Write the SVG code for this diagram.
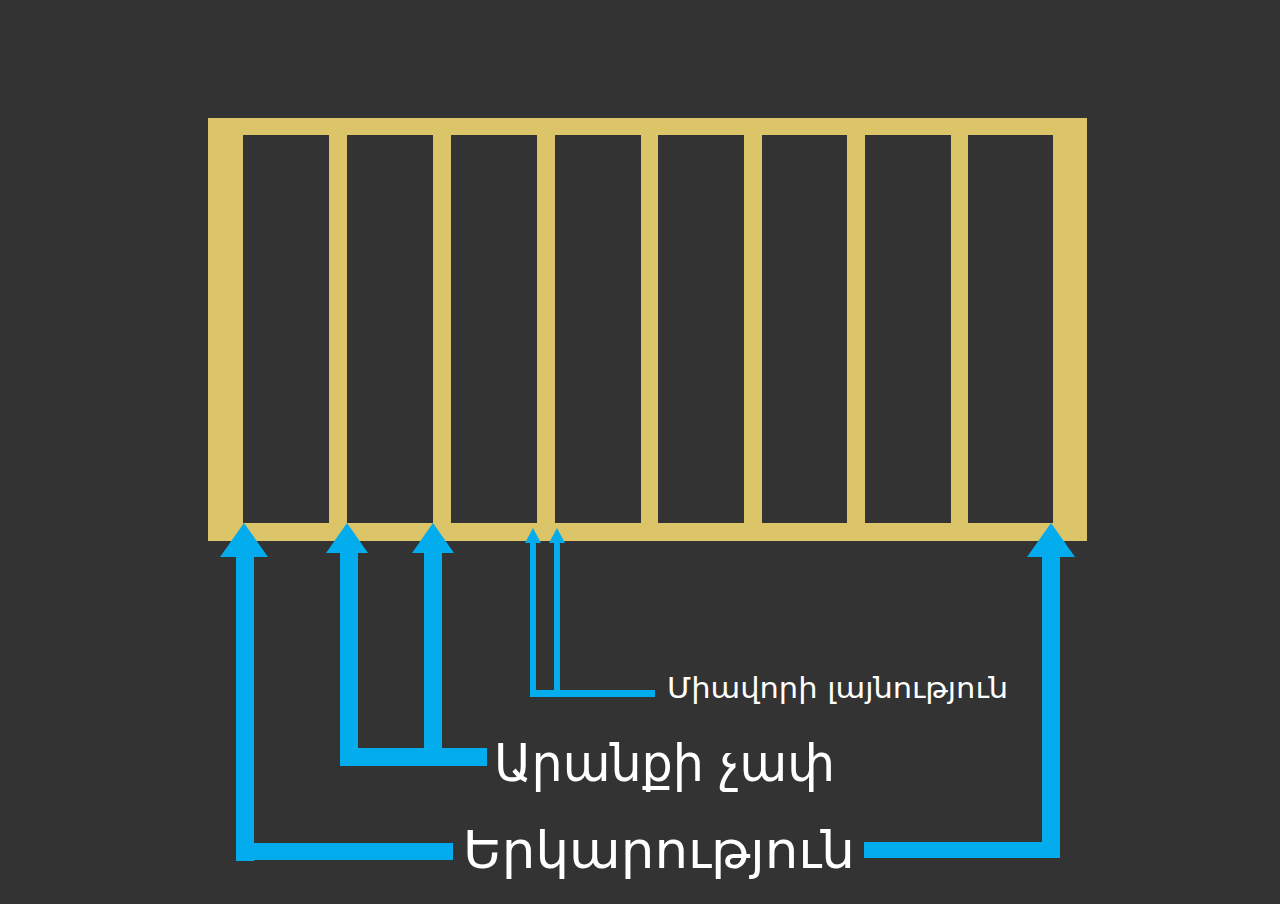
<svg xmlns="http://www.w3.org/2000/svg" width="1280" height="904" viewBox="0 0 1280 904">
<style>
.bg{fill:#333333}
.wood{fill:#dcc468}
.blue{fill:#02aced}
.lbl{fill:#ffffff;font-family:"DejaVu Sans","Noto Sans",sans-serif}
</style>
<rect class="bg" x="0" y="0" width="1280" height="904"/>
<g id="frame">
<rect class="wood" x="208" y="118" width="879" height="17"/>
<rect class="wood" x="208" y="523" width="879" height="18"/>
<rect class="wood" x="208" y="118" width="35" height="423"/>
<rect class="wood" x="1053" y="118" width="34" height="423"/>
<rect class="wood" x="329" y="118" width="18" height="423"/>
<rect class="wood" x="433" y="118" width="18" height="423"/>
<rect class="wood" x="537" y="118" width="18" height="423"/>
<rect class="wood" x="641" y="118" width="17" height="423"/>
<rect class="wood" x="744" y="118" width="18" height="423"/>
<rect class="wood" x="847" y="118" width="18" height="423"/>
<rect class="wood" x="951" y="118" width="17" height="423"/>
</g>
<g id="connectors">
<!-- length -->
<polygon class="blue" points="244,523 268,557 220,557"/>
<rect class="blue" x="236" y="555" width="18" height="306"/>
<rect class="blue" x="236" y="843" width="217" height="17"/>
<polygon class="blue" points="1051,523 1075,557 1027,557"/>
<rect class="blue" x="1042" y="555" width="18" height="303"/>
<rect class="blue" x="864" y="842" width="196" height="16"/>
<!-- gap size -->
<polygon class="blue" points="347,523 368,553 326,553"/>
<rect class="blue" x="340" y="551" width="18" height="215"/>
<polygon class="blue" points="433,523 454,553 412,553"/>
<rect class="blue" x="424" y="551" width="18" height="215"/>
<rect class="blue" x="340" y="748" width="147" height="18"/>
<!-- unit width -->
<polygon class="blue" points="533,528 541,543 525,543"/>
<rect class="blue" x="530" y="541" width="6" height="156"/>
<polygon class="blue" points="557,528 565,543 549,543"/>
<rect class="blue" x="554" y="541" width="6" height="156"/>
<rect class="blue" x="530" y="690" width="125" height="7"/>
</g>
<g id="label-unit">
<text class="lbl" x="667" y="698" font-size="29" textLength="341" lengthAdjust="spacingAndGlyphs">Միավորի լայնություն</text>
</g>
<g id="label-gap">
<text class="lbl" x="494" y="781" font-size="52" textLength="341" lengthAdjust="spacingAndGlyphs">Արանքի չափ</text>
</g>
<g id="label-length">
<text class="lbl" x="463" y="868" font-size="52" textLength="392" lengthAdjust="spacingAndGlyphs">Երկարություն</text>
</g>
</svg>
